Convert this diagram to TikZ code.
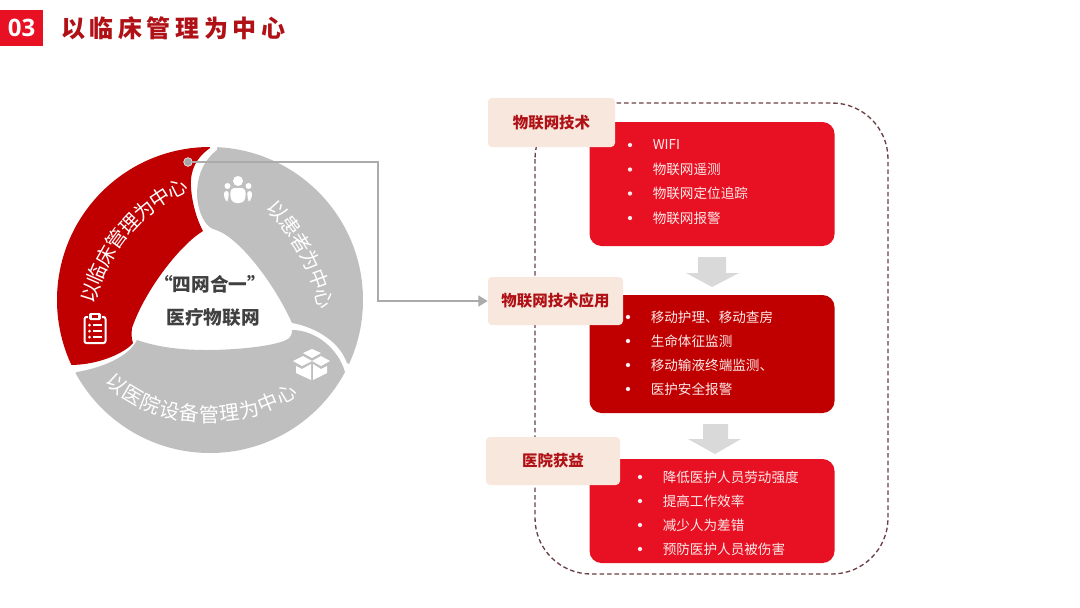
\documentclass[tikz,border=0pt]{standalone}
\usepackage{fontspec}
\usetikzlibrary{decorations.text,arrows.meta}
\setmainfont{Noto Sans CJK SC}
\newfontfamily\cjk{Noto Sans CJK SC}
\newfontfamily\cjkspaced[LetterSpace=19]{Noto Sans CJK SC}
\newfontfamily\numfont{Open Sans}
\definecolor{brightred}{HTML}{E81123}
\definecolor{deepred}{HTML}{C00000}
\definecolor{titlered}{HTML}{B01116}
\definecolor{segray}{HTML}{BFBFBF}
\definecolor{peach}{HTML}{F8E7DC}
\definecolor{arrowgray}{HTML}{D9D9D9}
\definecolor{listtext}{HTML}{FDE9E9}
\definecolor{dashcol}{HTML}{6A4044}
\definecolor{linkgray}{HTML}{ABABAB}
\tikzset{
 redbox/.style={rounded corners=9pt,inner sep=0pt},
 labelbox/.style={fill=peach,rounded corners=3pt,inner sep=0pt,font=\cjk\bfseries\fontsize{11.6pt}{14pt}\selectfont,text=titlered},
 listitem/.style={anchor=west,inner sep=0pt,text=listtext,font=\cjk\fontsize{10.2pt}{12pt}\selectfont},
 bulletdot/.style={circle,fill=listtext,inner sep=0pt,minimum size=3.2pt},
 centertext/.style={inner sep=0pt,text=black!75,font=\cjk\bfseries\fontsize{14pt}{16pt}\selectfont},
}
\newcommand{\arctext}[2]{\path[decorate,decoration={text along path,text align=center,raise=-5.4pt,text={|\cjk\fontsize{15pt}{15pt}\selectfont\color{white}|#2}}] #1;}
\begin{document}
\begin{tikzpicture}[x=0.75pt,y=-0.75pt]
\useasboundingbox (0,0) rectangle (1080,607);
\fill[white] (0,0) rectangle (1080,607);

% header
\node[fill=brightred,minimum width=32.25pt,minimum height=27pt,inner sep=0pt,text=white,font=\numfont\bfseries\fontsize{18pt}{20pt}\selectfont] (num) at (21.5,28) {03};
\node[anchor=west,inner sep=0pt,text=titlered,font=\cjkspaced\bfseries\fontsize{18pt}{20pt}\selectfont] (title) at (61,28) {以临床管理为中心};

% ring segments
\begin{scope}
\clip (208,130) -- (210,148) .. controls (196,158) and (190,170) .. (191,187) .. controls (192,205) and (198,222) .. (203,231) .. controls (180,245) and (145,290) .. (132,328) .. controls (131,335) and (132,340) .. (133,343) .. controls (126,352) and (100,365) .. (70,365) -- (30,384) -- (30,130) -- cycle;
\fill[deepred] (210,300) circle[radius=153];
\end{scope}
\begin{scope}
\clip (220,130) -- (217,150) .. controls (204,160) and (197,175) .. (197,195) .. controls (198,212) and (205,228) .. (216,230) .. controls (240,238) and (275,285) .. (292,323) .. controls (310,326) and (338,338) .. (347,363) -- (400,388) -- (400,130) -- cycle;
\fill[segray] (210,300) circle[radius=153];
\end{scope}
\begin{scope}
\clip (77,372) .. controls (100,368) and (128,358) .. (137,340) .. controls (160,348) and (185,350) .. (207,350) .. controls (240,350) and (285,345) .. (290,337) .. controls (292,334) and (292,332) .. (292,330) .. controls (315,330) and (338,348) .. (345,372) -- (400,401) -- (400,480) -- (30,480) -- (30,397) -- cycle;
\fill[segray] (210,300) circle[radius=153];
\end{scope}

% ring texts
\arctext{(86,308) .. controls (100,250) and (135,205) .. (192,182)}{以临床管理为中心}
\arctext{(263,197) .. controls (295,225) and (322,270) .. (328,318)}{以患者为中心}
\arctext{(103,368) .. controls (140,425) and (250,430) .. (303,382)}{以医院设备管理为中心}

% centre
\node[centertext] (c1) at (210,284) {“四网合一”};
\node[centertext] (c2) at (213,317) {医疗物联网};

% clipboard icon
\draw[white,line width=1.5pt,rounded corners=1.5pt] (88,317) -- (84.5,317) -- (84.5,343) -- (105.5,343) -- (105.5,317) -- (102,317);
\fill[white,rounded corners=1pt] (89,313) rectangle (101,320);
\fill[deepred] (92,315) rectangle (98,318);
\foreach \yy in {325,331,337}{
  \fill[white] (89.5,\yy) circle[radius=1.5];
  \fill[white] (93,\yy-1) rectangle (101.5,\yy+1);
}

% people icon
\fill[white] (238,181) circle[radius=5];
\fill[white,rounded corners=2.5pt] (231,188) -- (245,188) -- (246,197) -- (243,203) -- (233,203) -- (230,197) -- cycle;
\fill[white] (227.5,186) circle[radius=3];
\fill[white] (248.5,186) circle[radius=3];
\fill[white,rounded corners=2pt] (224,191) -- (229,191) -- (228,201) -- (226,201) -- (224,197) -- cycle;
\fill[white,rounded corners=2pt] (247,191) -- (252,191) -- (252,197) -- (250,201) -- (248,201) -- cycle;

% box icon
\fill[white] (293,361) -- (303,356) -- (312,361) -- (302,366) -- cycle;
\fill[white] (312,361) -- (321,356) -- (330,361) -- (321,366) -- cycle;
\fill[white] (303,353) -- (312,349) -- (321,353) -- (312,358) -- cycle;
\fill[white] (296,366) -- (302,369) -- (311,364) -- (311,380) -- (296,373) -- cycle;
\fill[white] (313,364) -- (321,369) -- (327,366) -- (327,373) -- (313,380) -- cycle;

% dashed frame
\draw[dashcol,line width=1pt,dash pattern=on 3.4pt off 2.2pt,rounded corners=42pt] (535,103) rectangle (888,574);

% red boxes
\node[redbox,fill=brightred,minimum width=183.75pt,minimum height=93pt] (box1) at (712,184) {};
\node[redbox,fill=deepred,minimum width=183.75pt,minimum height=88.5pt] (box2) at (712,354) {};
\node[redbox,fill=brightred,minimum width=183.75pt,minimum height=78pt] (box3) at (712,511) {};

% labels
\node[labelbox,minimum width=95.25pt,minimum height=36.75pt] (lab1) at (551.5,122.5) {物联网技术};
\node[labelbox,minimum width=101.25pt,minimum height=36pt] (lab2) at (555.5,301) {物联网技术应用};
\node[labelbox,minimum width=100.5pt,minimum height=36pt] (lab3) at (553,461) {医院获益};

% lists
\foreach \yy/\tt in {145/WIFI,169.5/物联网遥测,193.5/物联网定位追踪,218/物联网报警}{
  \node[bulletdot] at (630,\yy) {};
  \node[listitem] at (652.5,\yy) {\tt};
}
\foreach \yy/\tt in {317/移动护理、移动查房,341/生命体征监测,365/移动输液终端监测、,389/医护安全报警}{
  \node[bulletdot] at (628,\yy) {};
  \node[listitem] at (650.5,\yy) {\tt};
}
\foreach \yy/\tt in {477/降低医护人员劳动强度,501/提高工作效率,525/减少人为差错,549/预防医护人员被伤害}{
  \node[bulletdot] at (640,\yy) {};
  \node[listitem] at (662.5,\yy) {\tt};
}

% block arrows
\fill[arrowgray] (698,257) -- (726,257) -- (726,273) -- (739,273) -- (712,287) -- (686,273) -- (698,273) -- cycle;
\fill[arrowgray] (703,424) -- (728,424) -- (728,439) -- (741,439) -- (715,454) -- (688,439) -- (703,439) -- cycle;

% connector
\node[circle,fill=black!35,draw=white,line width=0.4pt,inner sep=0pt,minimum size=6.5pt] (dotn) at (188,162) {};
\coordinate (bend) at (378,301);
\draw[linkgray,line width=2pt,-{Triangle[length=7pt,width=8pt]}] (dotn.east) -- (dotn.east -| bend) -- (bend) -- (lab2.west);
\end{tikzpicture}
\end{document}
